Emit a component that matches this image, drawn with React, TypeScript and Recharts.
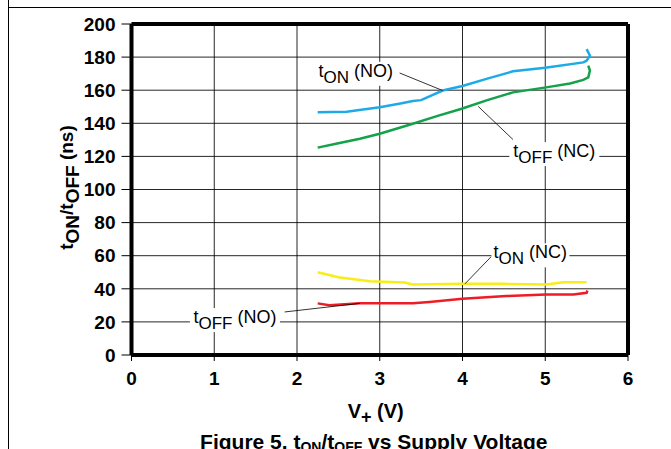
import { LineChart, Line, XAxis, YAxis, CartesianGrid, ReferenceLine, ReferenceDot } from 'recharts'

const voltTicks = [0, 1, 2, 3, 4, 5, 6]
const nsTicks = [0, 20, 40, 60, 80, 100, 120, 140, 160, 180, 200]

// tON (NO) - blue
const tonNoV = [2.25, 2.6, 3.0, 3.25, 3.4, 3.5, 3.76, 4.0, 4.3, 4.61, 5.0, 5.46, 5.5, 5.54, 5.5]
const tonNoNs = [146.7, 147, 149.7, 152, 153.5, 154, 159.8, 162.5, 167, 171.4, 173.5, 176.8, 177.8, 180.8, 184.8]

// tOFF (NC) - green
const toffNcV = [2.25, 2.5, 2.76, 3.0, 3.4, 3.7, 3.99, 4.3, 4.61, 5.01, 5.3, 5.46, 5.52, 5.54, 5.52]
const toffNcNs = [125.3, 128, 130.7, 133.7, 139.7, 144.5, 148.8, 154, 158.7, 161.7, 164, 166.2, 167.8, 171.8, 174.8]

// tON (NC) - yellow
const tonNcV = [2.25, 2.5, 2.88, 3.3, 3.4, 4.0, 4.5, 5.01, 5.22, 5.5]
const tonNcNs = [50, 47, 44.6, 43.8, 42.6, 43, 43, 42.6, 44, 44]

// tOFF (NO) - red
const toffNoV = [2.25, 2.39, 2.76, 3.4, 3.6, 4.0, 4.53, 5.01, 5.34, 5.5, 5.51]
const toffNoNs = [31.2, 30, 31.2, 31.2, 32, 34, 35.6, 36.6, 36.6, 37.6, 39]

const toPoints = (v: number[], ns: number[]) => v.map((x, i) => ({ v: x, ns: ns[i] }))

const font = '"Liberation Sans", Arial, Helvetica, sans-serif'

type AnnotProps = { cx?: number; cy?: number; sub: string; rest: string; w: number }

const Annot = ({ cx = 0, cy = 0, sub, rest, w }: AnnotProps) => (
	<g>
		<rect x={cx - w / 2} y={cy - 11} width={w} height={24} fill='#fff' />
		<text x={cx} y={cy + 4} textAnchor='middle' fontFamily={font} fontSize={18} fill='#000'>
			<tspan>t</tspan>
			<tspan dy={6} fontSize={17}>{sub}</tspan>
			<tspan dy={-6}>{' ' + rest}</tspan>
		</text>
	</g>
)

const YTitle = (props: any) => {
	const vb = props.viewBox || { x: 0, y: 0, width: 0, height: 0 }
	const cx = vb.x + 73
	const cy = vb.y + vb.height / 2 - 2
	return (
		<text
			x={cx}
			y={cy}
			transform={`rotate(-90, ${cx}, ${cy})`}
			textAnchor='middle'
			fontFamily={font}
			fontWeight='bold'
			fontSize={19}
			fill='#000'>
			<tspan>t</tspan>
			<tspan dy={6}>ON</tspan>
			<tspan dy={-6}>/t</tspan>
			<tspan dy={6}>OFF</tspan>
			<tspan dy={-6}> (ns)</tspan>
		</text>
	)
}

const XTitle = (props: any) => {
	const vb = props.viewBox || { x: 0, y: 0, width: 0, height: 0 }
	const cx = vb.x + vb.width / 2
	return (
		<g>
			<text x={cx - 4} y={vb.y + 63} textAnchor='middle' fontFamily={font} fontWeight='bold' fontSize={20} fill='#000'>
				<tspan>V</tspan>
				<tspan dy={5} fontSize={18}>+</tspan>
				<tspan dy={-5}> (V)</tspan>
			</text>
			<text x={cx - 6} y={vb.y + 94} textAnchor='middle' fontFamily={font} fontWeight='bold' fontSize={21} fill='#000'>
				<tspan>Figure 5. t</tspan>
				<tspan dy={3} fontSize={14}>ON</tspan>
				<tspan dy={-3}>/t</tspan>
				<tspan dy={3} fontSize={14}>OFF</tspan>
				<tspan dy={-3}> vs Supply Voltage</tspan>
			</text>
		</g>
	)
}

const tickStyle = { fill: '#000', fontSize: 19, fontWeight: 'bold' as const, fontFamily: font }

export default function App() {
	return (
		<div style={{ position: 'absolute', left: 0, top: 0, width: 671, height: 449, overflow: 'hidden', background: '#fff' }}>
			<div style={{ position: 'absolute', left: 8, top: 0, width: 1, height: 449, background: '#000' }} />
			<div style={{ position: 'absolute', left: 8, top: 7, width: 663, height: 1, background: '#000' }} />
			<LineChart width={671} height={449} margin={{ top: 24, right: 43, bottom: 0, left: 0 }}>
				<CartesianGrid stroke='#000' strokeWidth={1} strokeOpacity={0.85} />
				<XAxis
					dataKey='v'
					type='number'
					domain={[0, 6]}
					ticks={voltTicks}
					height={94}
					tick={tickStyle}
					tickSize={6}
					tickMargin={11}
					tickLine={{ stroke: '#000' }}
					axisLine={{ stroke: '#000', strokeWidth: 4 }}
					label={{ content: XTitle }}
				/>
				<YAxis
					type='number'
					domain={[0, 200]}
					ticks={nsTicks}
					width={131.5}
					tick={tickStyle}
					tickSize={10}
					tickMargin={6}
					tickLine={{ stroke: '#000' }}
					axisLine={{ stroke: '#000', strokeWidth: 4 }}
					label={{ content: YTitle }}
				/>
				<ReferenceLine y={200} stroke='#000' strokeWidth={4} ifOverflow='visible' />
				<ReferenceLine x={6} stroke='#000' strokeWidth={4} ifOverflow='visible' />

				<Line data={toPoints(tonNoV, tonNoNs)} dataKey='ns' type='linear' dot={false} stroke='#1eaae7' strokeWidth={2.5} isAnimationActive={false} />
				<Line data={toPoints(toffNcV, toffNcNs)} dataKey='ns' type='linear' dot={false} stroke='#13a24a' strokeWidth={2.5} isAnimationActive={false} />
				<Line data={toPoints(tonNcV, tonNcNs)} dataKey='ns' type='linear' dot={false} stroke='#f7ee16' strokeWidth={2.5} isAnimationActive={false} />
				<Line data={toPoints(toffNoV, toffNoNs)} dataKey='ns' type='linear' dot={false} stroke='#ee1c25' strokeWidth={2.5} isAnimationActive={false} />

				{/* leader lines */}
				<ReferenceLine segment={[{ x: 3.24, y: 170.4 }, { x: 3.76, y: 159.8 }]} stroke='#000' strokeWidth={0.8} ifOverflow='visible' />
				<ReferenceLine segment={[{ x: 4.19, y: 150.2 }, { x: 4.61, y: 130.2 }]} stroke='#000' strokeWidth={0.8} ifOverflow='visible' />
				<ReferenceLine segment={[{ x: 4.35, y: 59.6 }, { x: 4.03, y: 43 }]} stroke='#000' strokeWidth={0.8} ifOverflow='visible' />
				<ReferenceLine segment={[{ x: 1.85, y: 26 }, { x: 2.76, y: 31.2 }]} stroke='#000' strokeWidth={0.8} ifOverflow='visible' />

				{/* annotation labels */}
				<ReferenceDot x={2.71} y={170.5} r={0} ifOverflow='visible' shape={(p: any) => <Annot cx={p.cx} cy={p.cy} sub='ON' rest='(NO)' w={78} />} />
				<ReferenceDot x={5.11} y={122} r={0} ifOverflow='visible' shape={(p: any) => <Annot cx={p.cx} cy={p.cy} sub='OFF' rest='(NC)' w={90} />} />
				<ReferenceDot x={4.82} y={60.8} r={0} ifOverflow='visible' shape={(p: any) => <Annot cx={p.cx} cy={p.cy} sub='ON' rest='(NC)' w={78} />} />
				<ReferenceDot x={1.25} y={21.7} r={0} ifOverflow='visible' shape={(p: any) => <Annot cx={p.cx} cy={p.cy} sub='OFF' rest='(NO)' w={90} />} />
			</LineChart>
		</div>
	)
}
